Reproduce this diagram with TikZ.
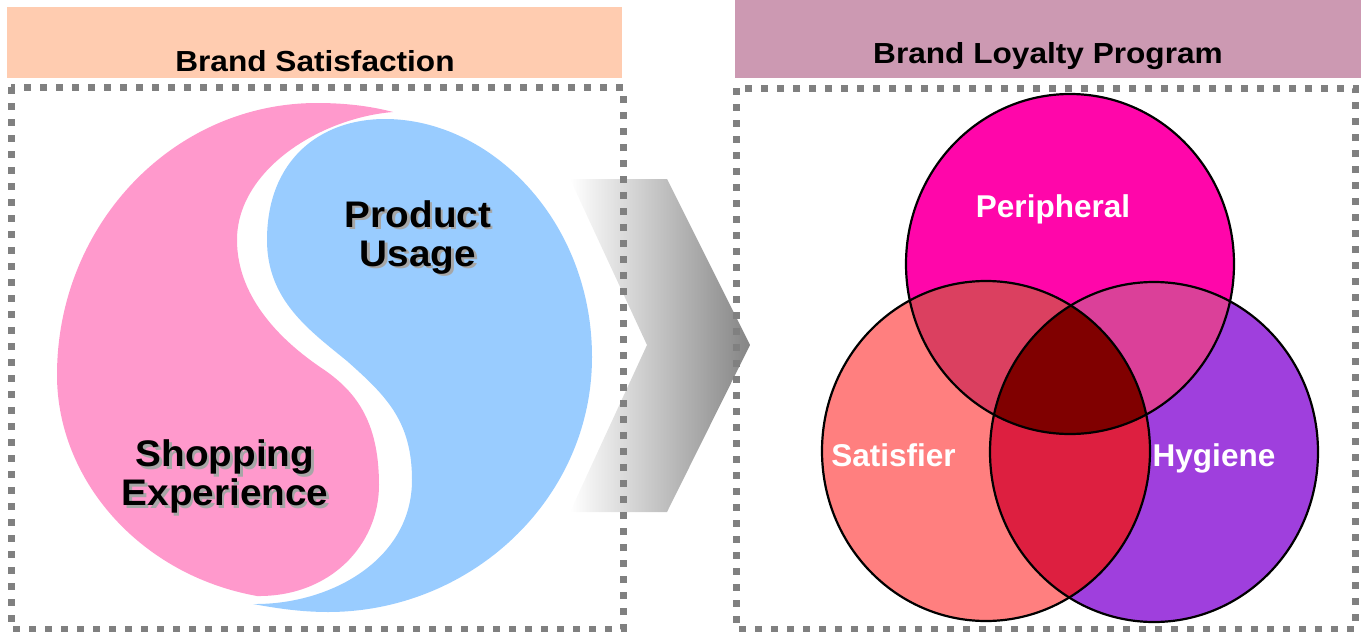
\documentclass[tikz,border=0pt]{standalone}
\usepackage{fontspec}
\setmainfont{Liberation Sans}
\usepackage{graphicx}
\definecolor{peach}{HTML}{FFCCB0}
\definecolor{mauve}{HTML}{CC99B2}
\definecolor{dotgray}{HTML}{808080}
\definecolor{yinpink}{HTML}{FF99CC}
\definecolor{yangblue}{HTML}{99CCFF}
\definecolor{arrowgray}{HTML}{858585}
\definecolor{periC}{HTML}{FF06AA}
\definecolor{satiC}{HTML}{FF7F7F}
\definecolor{hygiC}{HTML}{9F3FDD}
\definecolor{psC}{HTML}{DB4060}
\definecolor{phC}{HTML}{DB4099}
\definecolor{shC}{HTML}{DD1F40}
\definecolor{allC}{HTML}{800000}
\tikzset{
  dotbox/.style={draw=dotgray, line width=7pt, dash pattern=on 7pt off 9pt},
  headtext/.style={inner sep=0pt, anchor=base, font=\fontsize{29}{34}\selectfont\bfseries},
  bigtext/.style={inner sep=0pt, align=center, font=\fontsize{37}{39}\selectfont\bfseries},
  venntext/.style={inner sep=0pt, anchor=base, text=white, font=\fontsize{31.5}{36}\selectfont\bfseries},
  ring/.style={draw=black, line width=2.2pt},
}
\newcommand{\wide}[1]{\scalebox{1.09}[1]{#1}}
\newcommand{\wider}[1]{\scalebox{1.045}[1]{#1}}
\begin{document}
\begin{tikzpicture}[x=1pt,y=-1pt]
\useasboundingbox (0,0) rectangle (1361,632);

% header bars
\fill[peach] (7,7) rectangle (622,78);
\fill[mauve] (735,0) rectangle (1361,78);
\node[headtext] (hsat) at (315,71.5) {\wide{Brand Satisfaction}};
\node[headtext] (hloy) at (1048,63.5) {\wide{Brand Loyalty Program}};

% chevron arrow between the panels
\shade[left color=white, right color=arrowgray]
  (570,179) -- (667,179) -- (750,345) -- (667,512) -- (570,512) -- (647,345) -- cycle;

% yin-yang: pink half (tip at the top, round head at the bottom)
\fill[yinpink] (393,112)
  .. controls (370,106) and (345,103) .. (317,103)
  .. controls (173,103) and (57,225) .. (57,375)
  .. controls (57,480) and (140,575) .. (257,596)
  .. controls (330,597) and (379,545) .. (379,485)
  .. controls (379,420) and (355,390) .. (320,367)
  .. controls (285,343) and (237,300) .. (237,240)
  .. controls (237,170) and (320,118) .. (393,112) -- cycle;
% yin-yang: blue half (round head at the top, tip at the bottom)
\fill[yangblue] (253,604)
  .. controls (330,605) and (412,560) .. (412,480)
  .. controls (412,420) and (385,395) .. (347,361)
  .. controls (309,330) and (267,300) .. (267,240)
  .. controls (267,160) and (320,119) .. (385,119)
  .. controls (490,119) and (592,220) .. (592,357)
  .. controls (592,500) and (470,612) .. (328,612)
  .. controls (300,612) and (275,608) .. (253,604) -- cycle;

% yin-yang labels with soft shadow
\node[bigtext, text=gray!70] (prodsh) at (420.5,240) {\wider{Product}\\\wider{Usage}};
\node[bigtext] (prod) at (418,237.5) {\wider{Product}\\\wider{Usage}};
\node[bigtext, text=gray!70] (shopsh) at (227.5,479) {\wider{Shopping}\\\wider{Experience}};
\node[bigtext] (shop) at (225,476.5) {\wider{Shopping}\\\wider{Experience}};

% three-set diagram
\coordinate (cP) at (1070,264);
\coordinate (cS) at (986,451);
\coordinate (cH) at (1154,452);
\fill[periC] (cP) ellipse [x radius=164pt, y radius=170pt];
\fill[satiC] (cS) ellipse [x radius=164pt, y radius=170pt];
\fill[hygiC] (cH) ellipse [x radius=164pt, y radius=170pt];
\begin{scope}
  \clip (cP) ellipse [x radius=164pt, y radius=170pt];
  \fill[psC] (cS) ellipse [x radius=164pt, y radius=170pt];
  \fill[phC] (cH) ellipse [x radius=164pt, y radius=170pt];
  \clip (cS) ellipse [x radius=164pt, y radius=170pt];
  \fill[allC] (cH) ellipse [x radius=164pt, y radius=170pt];
\end{scope}
\begin{scope}
  \clip (cS) ellipse [x radius=164pt, y radius=170pt];
  \clip (cH) ellipse [x radius=164pt, y radius=170pt];
  \fill[shC] (cS) ellipse [x radius=164pt, y radius=170pt];
  \fill[allC] (cP) ellipse [x radius=164pt, y radius=170pt];
\end{scope}
\draw[ring] (cP) ellipse [x radius=164pt, y radius=170pt];
\draw[ring] (cS) ellipse [x radius=164pt, y radius=170pt];
\draw[ring] (cH) ellipse [x radius=164pt, y radius=170pt];
\node[venntext] (peri) at (1053,217) {Peripheral};
\node[venntext] (sati) at (893.5,466) {Satisfier};
\node[venntext] (hygi) at (1214,466) {Hygiene};

% dotted panel frames
\draw[dotbox] (11,87) rectangle (623,629);
\draw[dotbox] (736,88) rectangle (1355,629);
\end{tikzpicture}
\end{document}
